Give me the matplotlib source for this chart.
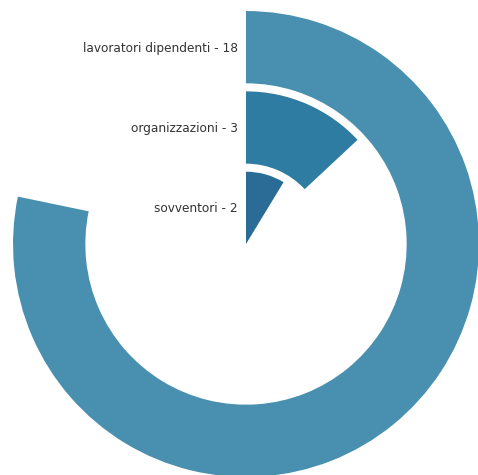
import numpy as np
import matplotlib
matplotlib.use("Agg")
import matplotlib.pyplot as plt

# Donors by type, innermost ring first
categories = ["sovventori", "organizzazioni", "lavoratori dipendenti"]
values = [2, 3, 18]
colors = ["#2b6c96", "#2e7ca1", "#4990b0"]

total = sum(values)
band = 0.9  # radial thickness of each ring (ring spacing is 1)

W, H = 478, 475
fig = plt.figure(figsize=(W / 100, H / 100), dpi=100)
cx, cy, rpx = 246, 244, 241
ax = fig.add_axes([(cx - rpx) / W, (H - cy - rpx) / H, 2 * rpx / W, 2 * rpx / H],
                  projection="polar")
ax.set_theta_zero_location("N")
ax.set_theta_direction(-1)

radii = np.arange(len(values))
thetas = np.array(values) / total * 2 * np.pi
ax.barh(radii, thetas, left=0, height=band, align="edge", color=colors,
        edgecolor="none")

for r, cat, v in zip(radii, categories, values):
    ax.annotate(f"{cat} - {v}", xy=(0, r + band / 2), xytext=(-8, -1),
                textcoords="offset pixels", ha="right", va="center",
                fontsize=8.7, color="#333333", annotation_clip=False)

ax.set_ylim(0, 3)
ax.set_axis_off()

fig.savefig("out.png", dpi=100)
